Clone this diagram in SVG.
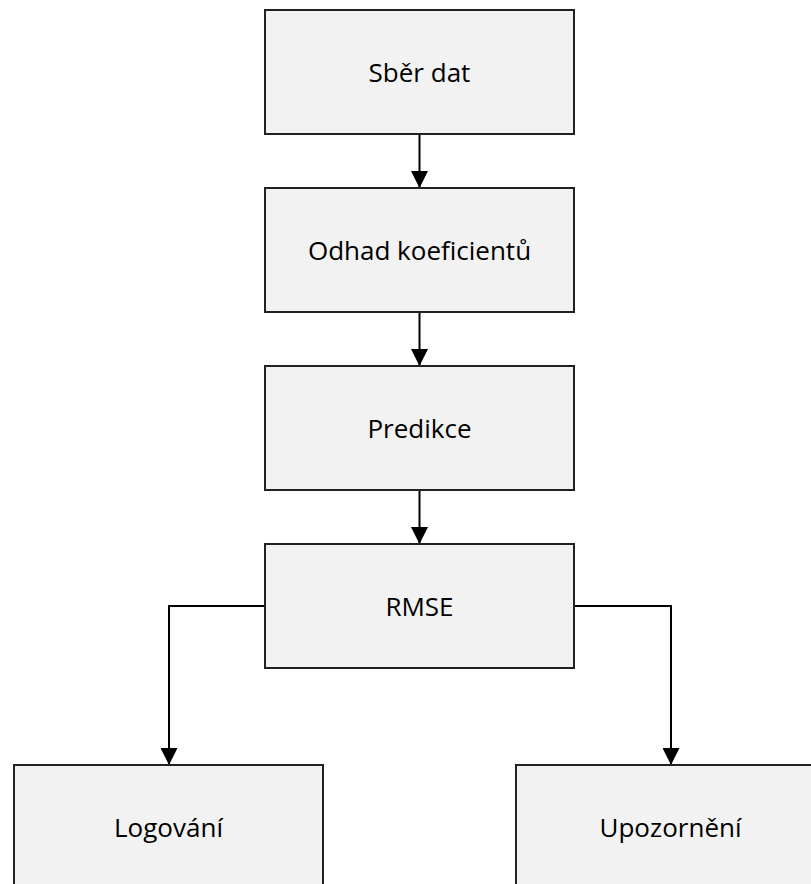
<svg xmlns="http://www.w3.org/2000/svg" width="811" height="884" viewBox="0 0 811 884">
  <style>
    .box { fill: #f2f2f2; stroke: #222; stroke-width: 2; }
    .lbl { font-family: "Open Sans", "Noto Sans", sans-serif; font-size: 26px; fill: #000; text-anchor: middle; }
    .edge { fill: none; stroke: #000; stroke-width: 2; }
  </style>
  <defs>
    <marker id="arrow" viewBox="0 0 10 10" refX="10" refY="5" markerWidth="8.5" markerHeight="8.5" markerUnits="strokeWidth" orient="auto">
      <path d="M0,0 L10,5 L0,10 z" fill="#000"/>
    </marker>
  </defs>
  <rect width="811" height="884" fill="#fff"/>

  <g id="connectors">
    <line class="edge" x1="419.5" y1="134" x2="419.5" y2="188" marker-end="url(#arrow)"/>
    <line class="edge" x1="419.5" y1="312" x2="419.5" y2="366" marker-end="url(#arrow)"/>
    <line class="edge" x1="419.5" y1="490" x2="419.5" y2="544" marker-end="url(#arrow)"/>
    <polyline class="edge" points="265,606 169,606 169,765" marker-end="url(#arrow)"/>
    <polyline class="edge" points="574,606 671,606 671,765" marker-end="url(#arrow)"/>
  </g>

  <g id="sber-dat">
    <rect class="box" x="265" y="10" width="309" height="124"/>
    <text class="lbl" x="419.5" y="82">Sběr dat</text>
  </g>
  <g id="odhad-koeficientu">
    <rect class="box" x="265" y="188" width="309" height="124"/>
    <text class="lbl" x="419.5" y="260">Odhad koeficientů</text>
  </g>
  <g id="predikce">
    <rect class="box" x="265" y="366" width="309" height="124"/>
    <text class="lbl" x="419.5" y="438">Predikce</text>
  </g>
  <g id="rmse">
    <rect class="box" x="265" y="544" width="309" height="124"/>
    <text class="lbl" x="419.5" y="616">RMSE</text>
  </g>
  <g id="logovani">
    <rect class="box" x="14" y="765" width="309" height="124"/>
    <text class="lbl" x="168.5" y="837">Logování</text>
  </g>
  <g id="upozorneni">
    <rect class="box" x="516" y="765" width="309" height="124"/>
    <text class="lbl" x="670.5" y="837">Upozornění</text>
  </g>
</svg>
